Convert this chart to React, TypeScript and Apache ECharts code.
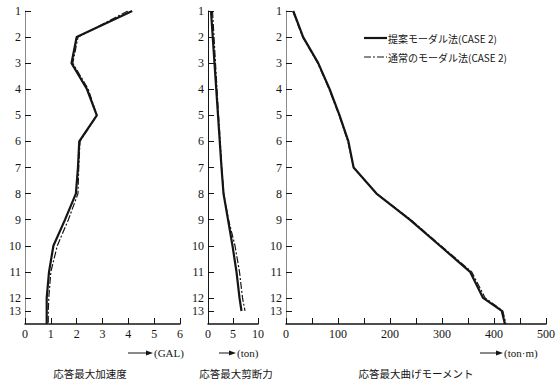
import React, { useEffect, useRef } from "react";
import * as echarts from "echarts";

// storey label positions (13th storey drawn half a step below 12; last entry = base)
const levelLabels = ["1", "2", "3", "4", "5", "6", "7", "8", "9", "10", "11", "12", "13"];
const levelPos = [1, 2, 3, 4, 5, 6, 7, 8, 9, 10, 11, 12, 12.5, 13];

const seriesNames = ["提案モーダル法(CASE 2)", "通常のモーダル法(CASE 2)"];

// 応答最大加速度 (GAL, scale 0-6)
const accelProposed = [4.15, 2.0, 1.8, 2.4, 2.78, 2.1, 2.05, 1.97, 1.55, 1.1, 0.93, 0.84, 0.84, 0.84];
const accelConventional = [3.98, 2.05, 1.85, 2.45, 2.78, 2.13, 2.08, 2.05, 1.68, 1.25, 1.0, 0.92, 0.9, 0.9];

// 応答最大剪断力 (ton, scale 0-10)
const shearProposed = [0.6, 0.95, 1.3, 1.65, 2.0, 2.35, 2.7, 3.1, 4.0, 4.9, 5.7, 6.3, 6.7];
const shearConventional = [0.9, 1.2, 1.5, 1.8, 2.1, 2.45, 2.75, 3.15, 4.1, 5.4, 6.3, 6.9, 7.4];

// 応答最大曲げモーメント (ton·m, scale 0-500)
const momentProposed = [14, 33, 62, 84, 103, 120, 130, 174, 238, 296, 354, 379, 415, 421];
const momentConventional = [13, 32, 61, 83, 102, 119, 130, 174, 240, 298, 357, 383, 417, 423];

const xMax = [6, 10, 500];
const xInterval = [1, 5, 50];
const xLabelValues = [[0, 1, 2, 3, 4, 5, 6], [0, 5, 10], [0, 100, 200, 300, 400, 500]];
const unitLabels = ["(GAL)", "(ton)", "(ton·m)"];
const panelTitles = ["応答最大加速度", "応答最大剪断力", "応答最大曲げモーメント"];

const serif = "'Liberation Serif', 'DejaVu Serif', serif";
const cjk = "'Noto Sans CJK JP', 'Noto Sans', sans-serif";
const ink = "#151515";
const dashPattern = [7, 2, 2, 2];

export default function App() {
  const ref = useRef<HTMLDivElement>(null);
  useEffect(() => {
    if (!ref.current) return;
    const chart = echarts.init(ref.current, null, { renderer: "svg" });
    const grids = [
      { left: 25, top: 11, width: 155, height: 313 },
      { left: 208, top: 11, width: 50, height: 313 },
      { left: 286, top: 11, width: 260, height: 313 },
    ];
    const yTicks = levelPos.slice(0, 13);
    const yAxes = grids.map((_, i) => ({
      type: "value",
      gridIndex: i,
      min: 1,
      max: 13,
      inverse: true,
      axisLine: { show: true, lineStyle: { color: i === 1 ? ink : "#8a8a8a", width: 1 } },
      axisTick: { show: true, inside: true, length: 6, customValues: yTicks, lineStyle: { color: ink, width: 1 } },
      axisLabel: {
        customValues: yTicks,
        formatter: (v: number) => levelLabels[yTicks.indexOf(v)] ?? "",
        margin: 4,
        color: ink,
        fontFamily: serif,
        fontSize: 12,
      },
      splitLine: { show: false },
    }));
    const xAxes = grids.map((_, i) => ({
      type: "value",
      gridIndex: i,
      min: 0,
      max: xMax[i],
      interval: xInterval[i],
      axisLine: { show: true, onZero: false, lineStyle: { color: ink, width: 1.5 } },
      axisTick: { show: true, inside: true, length: 6, lineStyle: { color: ink, width: 1 } },
      axisLabel: {
        customValues: xLabelValues[i],
        margin: 4,
        color: ink,
        fontFamily: serif,
        fontSize: 12,
      },
      splitLine: { show: false },
    }));
    const mk = (vals: number[]) => vals.map((v, k) => [v, levelPos[k]]);
    const pairs = [
      [accelProposed, accelConventional],
      [shearProposed, shearConventional],
      [momentProposed, momentConventional],
    ];
    const series: any[] = [];
    pairs.forEach((p, i) => {
      series.push({
        type: "line",
        name: seriesNames[0],
        xAxisIndex: i,
        yAxisIndex: i,
        data: mk(p[0]),
        symbol: "none",
        lineStyle: { color: ink, width: 2.2 },
        itemStyle: { color: ink },
      });
      series.push({
        type: "line",
        name: seriesNames[1],
        xAxisIndex: i,
        yAxisIndex: i,
        data: mk(p[1]),
        symbol: "none",
        lineStyle: { color: ink, width: 1.2, type: dashPattern },
        itemStyle: { color: ink },
      });
    });

    const unitPos = [
      { x0: 128, x1: 153, y: 353 },
      { x0: 219, x1: 236, y: 353 },
      { x0: 480, x1: 503, y: 353 },
    ];
    const graphics: any[] = [];
    unitPos.forEach((u, i) => {
      graphics.push({ type: "line", shape: { x1: u.x0, y1: u.y, x2: u.x1 - 5, y2: u.y }, style: { stroke: ink, lineWidth: 1 } });
      graphics.push({
        type: "polygon",
        shape: { points: [[u.x1 - 7, u.y - 2.5], [u.x1, u.y], [u.x1 - 7, u.y + 2.5]] },
        style: { fill: ink },
      });
      graphics.push({
        type: "text",
        x: u.x1 + 1,
        y: u.y,
        style: { text: unitLabels[i], fill: ink, font: `11px ${serif}`, textVerticalAlign: "middle" },
      });
    });
    const titleCenters = [90, 236, 416];
    panelTitles.forEach((t, i) => {
      graphics.push({
        type: "text",
        x: titleCenters[i],
        y: 373,
        style: { text: t, fill: ink, font: `10.5px ${cjk}`, textAlign: "center", textVerticalAlign: "middle" },
      });
    });
    // legend drawn by hand
    const legendRows = [
      { y: 38, width: 2.2, dash: null as any },
      { y: 57, width: 1.2, dash: dashPattern },
    ];
    legendRows.forEach((r, i) => {
      graphics.push({
        type: "line",
        shape: { x1: 364, y1: r.y, x2: 387, y2: r.y },
        style: { stroke: ink, lineWidth: r.width, lineDash: r.dash },
      });
      graphics.push({
        type: "text",
        x: 388,
        y: r.y,
        style: { text: seriesNames[i], fill: ink, font: `10px ${cjk}`, textVerticalAlign: "middle" },
      });
    });

    chart.setOption({
      animation: false,
      backgroundColor: "#ffffff",
      grid: grids,
      xAxis: xAxes,
      yAxis: yAxes,
      series,
      graphic: graphics,
    });
    return () => chart.dispose();
  }, []);
  return <div ref={ref} style={{ position: "fixed", left: 0, top: 0, width: 558, height: 386 }} />;
}
